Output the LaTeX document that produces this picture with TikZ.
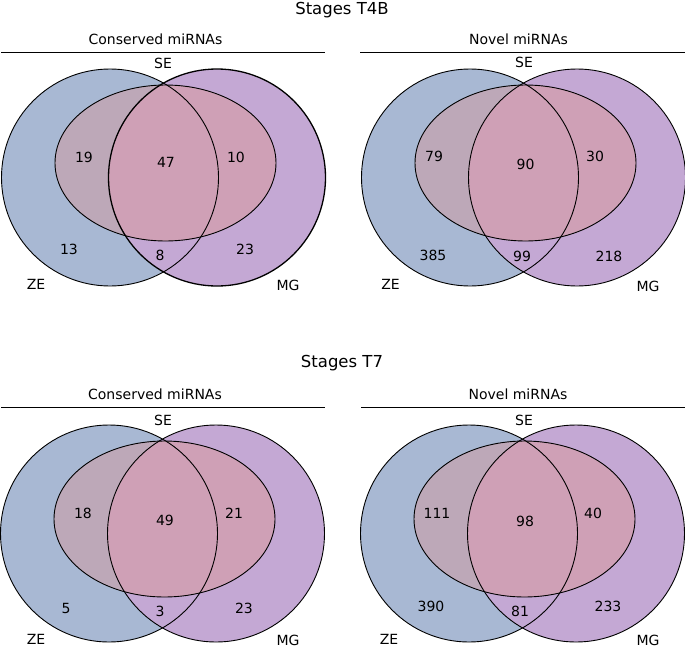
\documentclass[tikz,border=0pt]{standalone}
\usepackage{fontspec}
\setmainfont{DejaVu Sans}
\definecolor{zeblue}{HTML}{A8B8D3}
\definecolor{mgpurple}{HTML}{C4A8D4}
\definecolor{sezeonly}{HTML}{BDA8B8}
\definecolor{secore}{HTML}{CFA0B6}
\newcommand\vennshapes[3]{%
  \begin{scope}[shift={(#1,#2)}]
    \fill[zeblue] (110,177.5) circle[radius=108.5];
    \fill[mgpurple] (217,177.5) circle[radius=108.5];
    \fill[sezeonly] (165.5,163) ellipse[x radius=110.5,y radius=78];
    \begin{scope}
      \clip (217,177.5) circle[radius=108.5];
      \fill[secore] (165.5,163) ellipse[x radius=110.5,y radius=78];
    \end{scope}
    \draw[outl] (110,177.5) circle[radius=108.5];
    \draw[outl,line width=#3] (217,177.5) circle[radius=108.5];
    \draw[outl] (165.5,163) ellipse[x radius=110.5,y radius=78];
  \end{scope}}
\begin{document}
\begin{tikzpicture}[x=1pt,y=-1pt,
  outl/.style={draw=black,line width=0.9pt},
  rule/.style={draw=black,line width=0.9pt},
  ttl/.style={font=\fontsize{16.5}{19}\selectfont,inner sep=0pt},
  sub/.style={font=\fontsize{14}{17}\selectfont,inner sep=0pt},
  num/.style={font=\fontsize{14}{17}\selectfont,inner sep=0pt}]
\useasboundingbox (0,0) rectangle (685,648);
\fill[white] (0,0) rectangle (685,648);
% panels
\vennshapes{0}{0}{1.3pt}
\vennshapes{360}{0}{0.9pt}
\vennshapes{-1}{356}{0.9pt}
\vennshapes{359}{356}{0.9pt}
% titles
\node[ttl] (t1) at (342,10) {Stages T4B};
\node[ttl] (t2) at (342,363) {Stages T7};
% subtitles and rules
\node[sub] (s1) at (155.5,39) {Conserved miRNAs};
\node[sub] (s2) at (518.5,39) {Novel miRNAs};
\node[sub] (s3) at (155,394) {Conserved miRNAs};
\node[sub] (s4) at (518,394) {Novel miRNAs};
\draw[rule] (1,52) -- (325,52);
\draw[rule] (360,52) -- (685,52);
\draw[rule] (1,407) -- (325,407);
\draw[rule] (361,407) -- (685,407);
% top-left
\node[num] (a-se) at (163,63) {SE};
\node[num] (a-zs) at (84,157) {19};
\node[num] (a-all) at (166,162) {47};
\node[num] (a-ms) at (236,157) {10};
\node[num] (a-z) at (69,249) {13};
\node[num] (a-zm) at (160,255) {8};
\node[num] (a-m) at (245,249) {23};
\node[num] (a-ze) at (36,284) {ZE};
\node[num] (a-mg) at (288,285) {MG};
% top-right
\node[num] (b-se) at (524,62) {SE};
\node[num] (b-zs) at (434,156) {79};
\node[num] (b-all) at (525.5,164) {90};
\node[num] (b-ms) at (595,156) {30};
\node[num] (b-z) at (433,255) {385};
\node[num] (b-zm) at (522,256) {99};
\node[num] (b-m) at (609,256) {218};
\node[num] (b-ze) at (390.5,284) {ZE};
\node[num] (b-mg) at (648,286) {MG};
% bottom-left
\node[num] (c-se) at (163,420) {SE};
\node[num] (c-zs) at (83,513) {18};
\node[num] (c-all) at (165,520) {49};
\node[num] (c-ms) at (234,513) {21};
\node[num] (c-z) at (66,608) {5};
\node[num] (c-zm) at (160,611) {3};
\node[num] (c-m) at (244,608) {23};
\node[num] (c-ze) at (36,639) {ZE};
\node[num] (c-mg) at (288,640) {MG};
% bottom-right
\node[num] (d-se) at (524,420) {SE};
\node[num] (d-zs) at (437,513) {111};
\node[num] (d-all) at (525,521) {98};
\node[num] (d-ms) at (593,513) {40};
\node[num] (d-z) at (431,606) {390};
\node[num] (d-zm) at (520,611) {81};
\node[num] (d-m) at (608,606) {233};
\node[num] (d-ze) at (389,639) {ZE};
\node[num] (d-mg) at (648,640) {MG};
\end{tikzpicture}
\end{document}
